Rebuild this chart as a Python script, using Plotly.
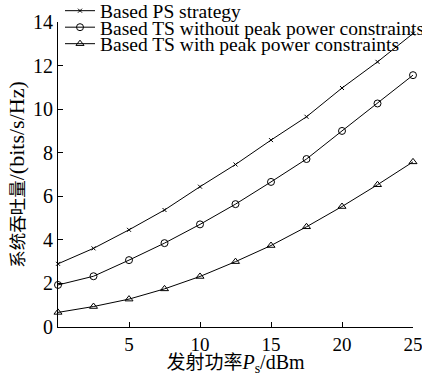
import plotly.graph_objects as go

power_dbm = [0, 2.5, 5, 7.5, 10, 12.5, 15, 17.5, 20, 22.5, 25]
ps_strategy = [2.9, 3.61, 4.46, 5.37, 6.44, 7.46, 8.58, 9.65, 10.97, 12.17, 13.47]
ts_no_peak = [1.93, 2.33, 3.07, 3.85, 4.71, 5.64, 6.66, 7.71, 9.0, 10.26, 11.56]
ts_peak = [0.67, 0.94, 1.28, 1.75, 2.32, 3.0, 3.74, 4.6, 5.53, 6.53, 7.58]

names = ["Based PS strategy",
         "Based TS without peak power constraints",
         "Based TS with peak power constraints"]

FONT = "Liberation Serif, Times New Roman, Noto Sans CJK SC, serif"

fig = go.Figure()
series = [(ps_strategy, "x-thin", 4), (ts_no_peak, "circle-open", 7), (ts_peak, "triangle-up-open", 7)]
legend_ids = ["legend", "legend2", "legend3"]
for (vals, sym, sz), nm, lg in zip(series, names, legend_ids):
    fig.add_trace(go.Scatter(
        x=power_dbm, y=vals, name=nm, mode="lines+markers", legend=lg,
        line=dict(color="black", width=1),
        marker=dict(symbol=sym, size=sz, color="black", line=dict(color="black", width=1)),
        cliponaxis=False,
    ))

axis_common = dict(showline=True, linecolor="black", linewidth=1, ticks="inside",
                   ticklen=5, tickcolor="black", showgrid=False, zeroline=False,
                   mirror=False, automargin=False, ticklabeloverflow="allow")

plot_h = 305.0
leg_common = dict(xanchor="left", yanchor="middle", bgcolor="rgba(0,0,0,0)",
                  font=dict(family=FONT, size=19.5, color="black"), itemwidth=30,
                  borderwidth=0)
row_y = [11, 27.5, 44]
legends = {}
for lg, ry in zip(legend_ids, row_y):
    legends[lg] = dict(x=(60 - 58) / 355.0, y=1 + (22 - ry) / plot_h, **leg_common)

fig.update_layout(
    width=422, height=376,
    margin=dict(l=58, r=9, t=22, b=49, autoexpand=False),
    paper_bgcolor="white", plot_bgcolor="white",
    font=dict(family=FONT, color="black"),
    xaxis=dict(range=[0, 25], tickvals=[5, 10, 15, 20, 25],
               tickfont=dict(family=FONT, size=19, color="black"),
               title=dict(text="<span style='font-size:19px'>发射功率</span><i>P</i><sub>s</sub>/dBm",
                          font=dict(family=FONT, size=20), standoff=0),
               **axis_common),
    yaxis=dict(range=[0, 14], tickvals=[0, 2, 4, 6, 8, 10, 12, 14],
               tickfont=dict(family=FONT, size=20, color="black"),
               title=dict(text="<span style='font-size:17.5px'>系统吞吐量</span>/(bits/s/Hz)",
                          font=dict(family=FONT, size=22), standoff=2),
               **axis_common),
    showlegend=True,
    **legends,
)

fig.write_html("out.html")
